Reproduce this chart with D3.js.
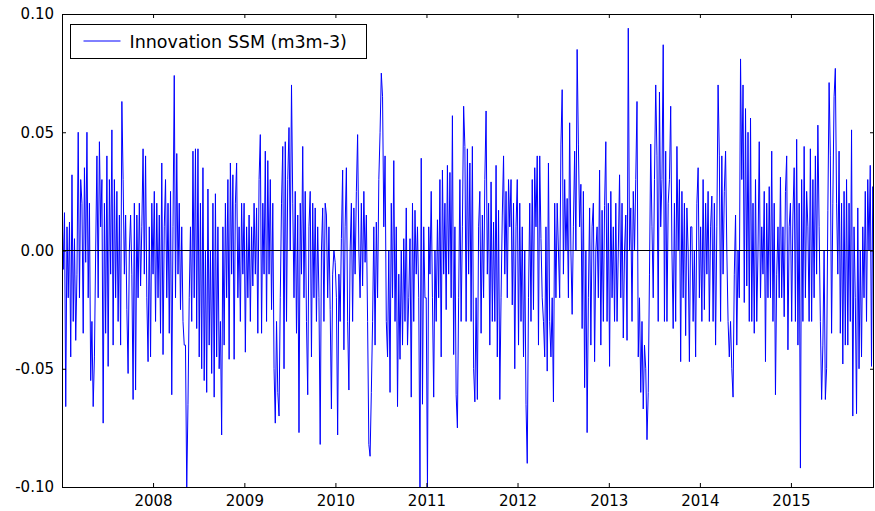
<!DOCTYPE html>
<html>
<head>
<meta charset="utf-8">
<script src="https://cdn.jsdelivr.net/npm/d3@7"></script>
<style>
  body { margin: 0; background: #fff; }
  text { font-family: "DejaVu Sans", sans-serif; }
</style>
</head>
<body>
<script>
// innovation SSM, one value every 5 days starting 2007-01-01
var y2007 = [.019,-.008,.016,-.066,.01,-.02,.012,-.045,.032,-.03,.005,-.038,-.01,.05,-.02,.03,.02,-.035,.035,-.005,.05,-.02,.02,-.055,-.03,-.066,-.045,0,.04,-.02,.046,.01,.03,-.073,.02,-.035,.04,-.049,.03,-.01,.051,-.04,.03,-.02,.025,-.03,.015,-.04,.063,.03,-.01,.015,-.025,-.052,0,.015,-.01,-.063,.02,-.059,.015,-.02,.02,-.015,.01,.043,-.01,.04,-.02,-.047,.01,-.045,.02];
var y2008 = [-.01,.025,-.03,.02,-.02,.015,-.035,.037,-.044,.01,.03,-.02,.02,-.035,.025,-.061,.01,.074,-.02,.041,-.01,.02,-.025,.01,-.03,-.04,-.04,-.101,-.065,-.02,.01,-.03,.042,-.02,.043,-.033,.043,-.045,.02,-.05,.035,-.055,0,-.06,.026,-.04,0,-.052,.02,-.062,.024,-.045,.01,-.05,-.03,-.078,.01,-.04,.02,-.02,.03,-.046,.037,-.01,.032,-.046,.02,.037,-.02,.01,-.03,.02,-.01];
var y2009 = [.02,-.043,.01,-.02,.015,-.03,.01,-.015,.02,-.01,.018,-.035,.03,.049,-.035,.02,-.01,.042,-.03,.038,-.01,.03,-.025,.02,-.05,-.073,-.03,-.06,-.07,-.02,.02,.044,-.05,.046,-.03,.03,.052,0,.07,.02,-.02,.025,-.035,.015,-.077,.02,-.01,.044,-.02,.025,-.03,-.061,.01,.025,-.045,.02,-.02,.018,-.03,.01,-.02,-.082,0,.018,-.03,.02,.015,-.02,.01,-.025,-.067,-.01,0];
var y2010 = [-.005,-.02,-.078,-.01,-.03,.005,.034,-.042,.01,.035,-.03,-.059,0,.02,-.03,.018,-.01,.025,.049,0,-.02,.02,-.015,.025,-.005,.015,-.03,-.082,-.087,-.06,-.03,.01,-.04,.012,-.02,.03,.05,.075,.065,.01,.04,-.03,-.045,0,-.06,.02,-.02,.038,-.03,.01,-.066,-.01,-.046,0,-.04,.005,-.03,.018,-.04,-.02,.005,-.062,.02,-.03,.017,-.01,.01,-.02,-.1,.039,-.065,.01,-.02];
var y2011 = [-.02,-.101,.01,-.01,.025,-.02,-.062,0,-.03,.013,-.02,.03,-.045,.034,-.01,.02,-.025,.036,-.01,.033,-.02,.057,-.044,.01,-.061,-.075,-.02,.03,-.03,.01,.061,.044,-.03,.043,-.01,.037,-.03,.044,-.05,-.064,-.02,-.063,.01,.025,-.035,.015,-.02,.03,.059,-.01,.02,-.04,.029,-.03,.012,-.03,.036,-.045,.017,-.063,-.02,.015,.04,-.01,.025,-.02,.03,.01,.03,-.023,.02,-.05,.01];
var y2012 = [.03,-.04,.02,-.03,.01,-.045,0,-.065,-.09,-.02,.02,-.03,.03,-.025,.035,.01,.04,-.04,.04,.005,-.02,-.03,-.045,.01,-.051,.037,-.03,-.045,-.02,-.064,.02,-.02,.02,0,-.02,.045,.068,-.01,.03,0,.022,-.02,.054,0,-.027,.01,.042,0,.085,.045,.01,.028,-.033,.025,-.058,0,-.077,-.02,.018,-.04,.01,.02,-.047,0,.01,-.02,.034,-.04,.017,-.03,.019,.046,-.03];
var y2013 = [.02,-.049,.025,-.02,.01,-.03,.02,-.03,0,.032,-.02,.02,-.037,0,.015,-.038,.094,0,.018,-.03,.025,0,.03,.063,-.045,-.02,-.06,-.03,-.067,-.04,-.05,-.08,-.06,-.01,.045,.01,-.02,.03,.07,.04,-.03,.067,.01,.03,.087,-.03,.042,-.03,.02,.03,.061,0,-.033,.02,-.03,.044,0,.03,-.047,.025,-.02,.02,-.036,.018,0,-.047,.01,.01,-.03,0,-.045,.02,.035];
var y2014 = [-.02,.01,-.03,.03,-.025,.02,-.01,.025,-.03,.01,.023,-.03,.02,-.04,.01,.07,.04,-.03,.04,-.01,.025,.042,0,-.03,-.045,-.03,-.05,-.062,-.01,.015,-.04,0,-.02,.081,.03,.07,-.022,.06,-.015,.05,-.03,.056,-.03,.02,-.035,.03,-.03,0,.046,-.02,.01,-.01,.025,-.047,.02,-.02,.027,-.02,.042,-.03,.02,-.061,-.01,.01,-.02,.031,-.02,.01,-.028,.025,.04,-.042,.01];
var y2015 = [.02,-.03,.015,.035,-.03,.047,-.04,.02,-.092,.03,-.03,.044,-.02,.025,.01,-.03,.043,-.03,.03,-.02,.04,-.01,.053,.01,-.03,-.063,-.04,0,-.063,-.05,.017,.071,.04,-.035,.02,.065,.077,.02,-.01,.042,-.035,.02,-.048,.025,-.04,.03,-.04,.02,-.03,.051,-.07,.01,-.02,-.069,.018,-.05,0,-.045,.01,-.02,.025,-.03,.03,0,.036,-.049,.027,.01];

var yTicks = [0.10, 0.05, 0.00, -0.05, -0.10];
var yearTicks = [2008, 2009, 2010, 2011, 2012, 2013, 2014, 2015];
var seriesName = "Innovation SSM (m3m-3)";

var values = [].concat(y2007, y2008, y2009, y2010, y2011, y2012, y2013, y2014, y2015);
var start = new Date(2007, 0, 1);
var data = values.map(function (v, i) {
  return { date: d3.timeDay.offset(start, i * 5), v: v };
});

var width = 875, height = 511;
var margin = { top: 14, right: 1, bottom: 24, left: 62 };

var svg = d3.select("body").append("svg")
    .attr("width", width)
    .attr("height", height);

var x = d3.scaleTime()
    .domain([data[0].date, data[data.length - 1].date])
    .range([margin.left, width - margin.right]);
var y = d3.scaleLinear()
    .domain([-0.1, 0.1])
    .range([height - margin.bottom, margin.top]);

svg.append("defs").append("clipPath").attr("id", "clip")
  .append("rect")
    .attr("x", margin.left).attr("y", margin.top)
    .attr("width", width - margin.left - margin.right)
    .attr("height", height - margin.top - margin.bottom);

var line = d3.line()
    .x(function (d) { return x(d.date); })
    .y(function (d) { return y(d.v); });

svg.append("path")
    .datum(data)
    .attr("clip-path", "url(#clip)")
    .attr("fill", "none")
    .attr("stroke", "#0000ff")
    .attr("stroke-width", 1)
    .attr("d", line);

// zero line
svg.append("line")
    .attr("x1", margin.left).attr("x2", width - margin.right)
    .attr("y1", y(0)).attr("y2", y(0))
    .attr("stroke", "#000").attr("stroke-width", 1);

var yearDates = yearTicks.map(function (yr) { return new Date(yr, 0, 1); });
function fmt(v) { return v.toFixed(2); }

var gx = svg.append("g")
    .attr("transform", "translate(0," + (height - margin.bottom) + ")")
    .call(d3.axisBottom(x).tickValues(yearDates).tickFormat(d3.timeFormat("%Y"))
      .tickSizeInner(-4).tickSizeOuter(0).tickPadding(8));
var gxt = svg.append("g")
    .attr("transform", "translate(0," + margin.top + ")")
    .call(d3.axisTop(x).tickValues(yearDates).tickFormat("")
      .tickSizeInner(-4).tickSizeOuter(0));
var gy = svg.append("g")
    .attr("transform", "translate(" + margin.left + ",0)")
    .call(d3.axisLeft(y).tickValues(yTicks).tickFormat(fmt)
      .tickSizeInner(-4).tickSizeOuter(0).tickPadding(8));
var gyr = svg.append("g")
    .attr("transform", "translate(" + (width - margin.right) + ",0)")
    .call(d3.axisRight(y).tickValues(yTicks).tickFormat("")
      .tickSizeInner(-4).tickSizeOuter(0));

[gx, gxt, gy, gyr].forEach(function (g) {
  g.select(".domain").remove();
  g.selectAll("text").attr("font-size", 15).attr("fill", "#000")
    .attr("font-family", "DejaVu Sans, sans-serif");
  g.selectAll(".tick line").attr("stroke", "#000");
});

svg.append("rect")
    .attr("x", margin.left + 0.5).attr("y", margin.top + 0.5)
    .attr("width", width - margin.left - margin.right - 1)
    .attr("height", height - margin.top - margin.bottom)
    .attr("fill", "none").attr("stroke", "#000").attr("stroke-width", 1);

// legend
var lg = svg.append("g").attr("transform", "translate(70.5,24.5)");
lg.append("rect")
    .attr("width", 296).attr("height", 34)
    .attr("fill", "#fff").attr("stroke", "#000").attr("stroke-width", 1);
lg.append("line")
    .attr("x1", 13).attr("x2", 50).attr("y1", 16.5).attr("y2", 16.5)
    .attr("stroke", "#0000ff").attr("stroke-width", 1);
lg.append("text")
    .attr("x", 59).attr("y", 23)
    .attr("font-size", 17.5)
    .text(seriesName);
</script>
</body>
</html>
